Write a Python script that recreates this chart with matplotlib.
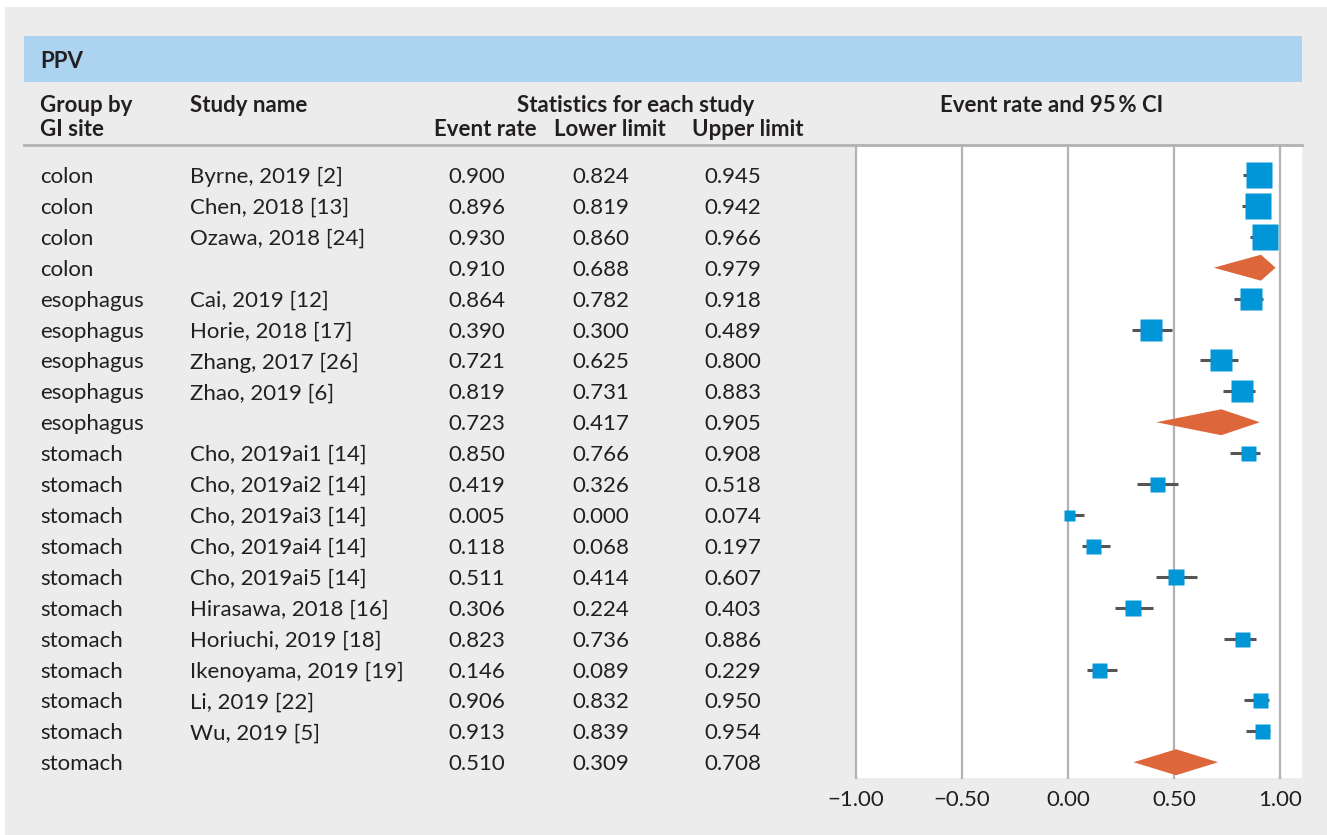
import matplotlib
matplotlib.use('Agg')
import matplotlib.pyplot as plt
from matplotlib.patches import Rectangle, Polygon
from matplotlib.lines import Line2D
from matplotlib import transforms

# data
groups = ['colon', 'colon', 'colon', 'colon',
          'esophagus', 'esophagus', 'esophagus', 'esophagus', 'esophagus',
          'stomach', 'stomach', 'stomach', 'stomach', 'stomach', 'stomach',
          'stomach', 'stomach', 'stomach', 'stomach', 'stomach']
studies = ['Byrne, 2019 [2]', 'Chen, 2018 [13]', 'Ozawa, 2018 [24]', '',
           'Cai, 2019 [12]', 'Horie, 2018 [17]', 'Zhang, 2017 [26]', 'Zhao, 2019 [6]', '',
           'Cho, 2019ai1 [14]', 'Cho, 2019ai2 [14]', 'Cho, 2019ai3 [14]',
           'Cho, 2019ai4 [14]', 'Cho, 2019ai5 [14]', 'Hirasawa, 2018 [16]',
           'Horiuchi, 2019 [18]', 'Ikenoyama, 2019 [19]', 'Li, 2019 [22]',
           'Wu, 2019 [5]', '']
event = [0.900, 0.896, 0.930, 0.910, 0.864, 0.390, 0.721, 0.819, 0.723,
         0.850, 0.419, 0.005, 0.118, 0.511, 0.306, 0.823, 0.146, 0.906, 0.913, 0.510]
lower = [0.824, 0.819, 0.860, 0.688, 0.782, 0.300, 0.625, 0.731, 0.417,
         0.766, 0.326, 0.000, 0.068, 0.414, 0.224, 0.736, 0.089, 0.832, 0.839, 0.309]
upper = [0.945, 0.942, 0.966, 0.979, 0.918, 0.489, 0.800, 0.883, 0.905,
         0.908, 0.518, 0.074, 0.197, 0.607, 0.403, 0.886, 0.229, 0.950, 0.954, 0.708]
# relative study weight (box size), 0 for subgroup summary rows
weight = [26, 26, 26, 0, 22, 22, 23, 22, 0,
          15, 15, 11, 15, 16, 16, 15, 15, 15, 15, 0]
ticks = [-1.0, -0.5, 0.0, 0.5, 1.0]

plt.rcParams['font.family'] = ['Lato', 'DejaVu Sans']
W, H = 1327, 835
txt = '#231f20'
grid_c = '#b1b2b4'

def fx(p):
    return p / W

def fy(p):
    return 1 - p / H

fig = plt.figure(figsize=(W / 100, H / 100), dpi=100)
fig.patch.set_facecolor('white')
# gray panel + blue title band
fig.add_artist(Rectangle((fx(5), 0), 1 - fx(5), fy(7), transform=fig.transFigure,
                         facecolor='#ebeceb', edgecolor='none', zorder=-10))
fig.add_artist(Rectangle((fx(24), fy(82)), fx(1302) - fx(24), fy(36) - fy(82),
                         transform=fig.transFigure, facecolor='#acd3f0',
                         edgecolor='none', zorder=-9))
fig.text(fx(40), fy(60), 'PPV', fontsize=16, fontweight='bold', color=txt,
         va='center_baseline', ha='left')

# column headers
fig.text(fx(40), fy(103), 'Group by', fontsize=16, fontweight='bold', color=txt, va='center_baseline')
fig.text(fx(40), fy(128), 'GI site', fontsize=16, fontweight='bold', color=txt, va='center_baseline')
fig.text(fx(190), fy(103), 'Study name', fontsize=16, fontweight='bold', color=txt, va='center_baseline')
fig.text(fx(636), fy(103), 'Statistics for each study', fontsize=16, fontweight='bold',
         color=txt, va='center_baseline', ha='center')
fig.text(fx(485), fy(128), 'Event rate', fontsize=16, fontweight='bold', color=txt,
         va='center_baseline', ha='center')
fig.text(fx(610), fy(128), 'Lower limit', fontsize=16, fontweight='bold', color=txt,
         va='center_baseline', ha='center')
fig.text(fx(748), fy(128), 'Upper limit', fontsize=16, fontweight='bold', color=txt,
         va='center_baseline', ha='center')
fig.text(fx(1052), fy(103), 'Event rate and 95\u2009% CI', fontsize=16, fontweight='bold',
         color=txt, va='center_baseline', ha='center')
fig.add_artist(Line2D([fx(24), fx(1302)], [fy(145), fy(145)], transform=fig.transFigure,
                      color=grid_c, lw=2))

# forest plot axes
ax = fig.add_axes([fx(856), fy(778), fx(1302) - fx(856), fy(145) - fy(778)])
ax.set_facecolor('white')
for s in ax.spines.values():
    s.set_visible(False)
ax.set_xlim(-1.0, 1.1038)
ax.set_ylim(19.51, -0.97)

for t in ticks:
    ax.axvline(t, color=grid_c, lw=1.6, zorder=1, clip_on=False)

for i in range(len(event)):
    if studies[i] == '':
        d = Polygon([(lower[i], i), (event[i], i - 0.42), (upper[i], i), (event[i], i + 0.42)],
                    closed=True, facecolor='#dd663a', edgecolor='none', zorder=3)
        ax.add_patch(d)
    else:
        ax.plot([lower[i], upper[i]], [i, i], color='#555555', lw=2.2,
                solid_capstyle='butt', zorder=2)
        ax.plot(event[i], i, marker='s', ms=weight[i] * 0.72, color='#0096d8',
                mec='none', zorder=3)

ax.set_xticks(ticks)
ax.set_xticklabels([('%.2f' % t).replace('-', '\u2212') for t in ticks])
ax.tick_params(axis='x', length=0, pad=9, labelsize=16, labelcolor=txt)
ax.set_yticks([])

# table text, rows follow the axis y scale
tr = transforms.blended_transform_factory(fig.transFigure, ax.transData)
for i in range(len(event)):
    ax.text(fx(40), i, groups[i], transform=tr, fontsize=16, color=txt, va='center_baseline', clip_on=False)
    ax.text(fx(190), i, studies[i], transform=tr, fontsize=16, color=txt, va='center_baseline', clip_on=False)
    ax.text(fx(477), i, '%.3f' % event[i], transform=tr, fontsize=16, color=txt,
            va='center_baseline', ha='center', clip_on=False)
    ax.text(fx(601), i, '%.3f' % lower[i], transform=tr, fontsize=16, color=txt,
            va='center_baseline', ha='center', clip_on=False)
    ax.text(fx(733), i, '%.3f' % upper[i], transform=tr, fontsize=16, color=txt,
            va='center_baseline', ha='center', clip_on=False)

fig.savefig('out.png', dpi=100, facecolor=fig.get_facecolor())
